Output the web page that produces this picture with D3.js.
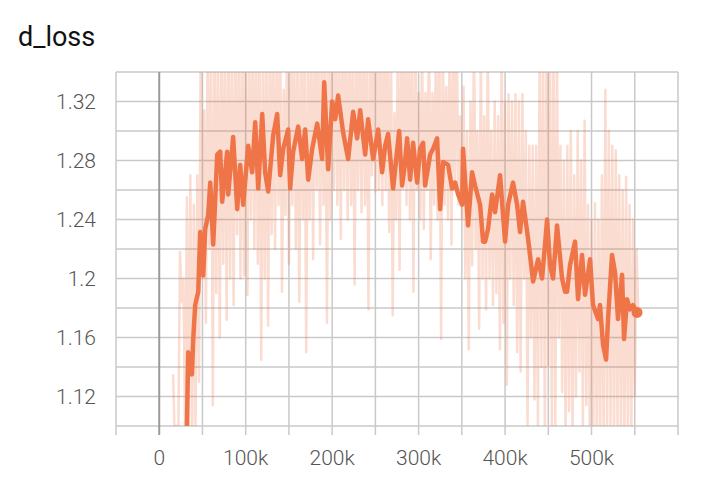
<!DOCTYPE html>
<html>
<head>
<meta charset="utf-8">
<script src="https://cdn.jsdelivr.net/npm/d3@7"></script>
<style>
  body { margin: 0; background: #fff; }
  svg text { font-family: Roboto, "Noto Sans", sans-serif; }
</style>
</head>
<body>
<div id="chart"></div>
<script>
// d_loss scalar, raw + smoothed

// x ticks / grid (steps)
var xGridSteps = [-50000, 0, 50000, 100000, 150000, 200000, 250000, 300000, 350000, 400000, 450000, 500000, 550000, 600000];
var xTickSteps = [0, 100000, 200000, 300000, 400000, 500000];
var xTickLabels = ["0", "100k", "200k", "300k", "400k", "500k"];
// y ticks / grid
var yGridValues = [1.10, 1.12, 1.14, 1.16, 1.18, 1.20, 1.22, 1.24, 1.26, 1.28, 1.30, 1.32, 1.34];
var yTickValues = [1.12, 1.16, 1.20, 1.24, 1.28, 1.32];
var yTickLabels = ["1.12", "1.16", "1.2", "1.24", "1.28", "1.32"];

// raw series: one point every 2k steps from 16k
var rawStart = 16000, rawEvery = 2000;
var rawValues = [
  1.135, 1.09, 1.10, 1.09, 1.218, 1.184, 1.20, 1.09, 1.255, 1.10,
  1.27, 1.08, 1.25, 1.10, 1.27, 1.13, 1.37, 1.20, 1.314, 1.17,
  1.37, 1.22, 1.36, 1.114, 1.38, 1.19, 1.36, 1.16, 1.37, 1.21,
  1.36, 1.172, 1.38, 1.20, 1.36, 1.182, 1.37, 1.23, 1.36, 1.20,
  1.38, 1.202, 1.36, 1.189, 1.37, 1.24, 1.36, 1.22, 1.38, 1.21,
  1.36, 1.145, 1.37, 1.20, 1.36, 1.168, 1.38, 1.23, 1.36, 1.22,
  1.37, 1.25, 1.36, 1.191, 1.328, 1.243, 1.38, 1.21, 1.36, 1.25,
  1.37, 1.22, 1.36, 1.184, 1.38, 1.24, 1.36, 1.150, 1.37, 1.24,
  1.36, 1.213, 1.38, 1.26, 1.36, 1.223, 1.37, 1.25, 1.36, 1.170,
  1.38, 1.24, 1.36, 1.26, 1.37, 1.25, 1.36, 1.227, 1.38, 1.26,
  1.36, 1.24, 1.37, 1.25, 1.36, 1.196, 1.38, 1.26, 1.36, 1.245,
  1.37, 1.25, 1.36, 1.179, 1.38, 1.27, 1.36, 1.259, 1.37, 1.26,
  1.36, 1.25, 1.38, 1.26, 1.36, 1.2315, 1.37, 1.175, 1.312, 1.24,
  1.36, 1.206, 1.38, 1.261, 1.36, 1.25, 1.37, 1.24, 1.36, 1.191,
  1.38, 1.26, 1.326, 1.24, 1.36, 1.2335, 1.326, 1.26, 1.37, 1.213,
  1.326, 1.25, 1.36, 1.24, 1.37, 1.159, 1.36, 1.25, 1.33, 1.24,
  1.37, 1.223, 1.36, 1.26, 1.38, 1.25, 1.31, 1.24, 1.33, 1.20,
  1.30, 1.152, 1.32, 1.209, 1.37, 1.22, 1.30, 1.166, 1.36, 1.20,
  1.31, 1.179, 1.36, 1.20, 1.30, 1.182, 1.32, 1.19, 1.31, 1.152,
  1.36, 1.17, 1.32, 1.128, 1.325, 1.20, 1.32, 1.182, 1.325, 1.15,
  1.32, 1.137, 1.325, 1.20, 1.30, 1.10, 1.29, 1.16, 1.29, 1.118,
  1.29, 1.10, 1.37, 1.14, 1.36, 1.09, 1.37, 1.141, 1.36, 1.10,
  1.37, 1.09, 1.36, 1.16, 1.29, 1.123, 1.28, 1.09, 1.29, 1.11,
  1.30, 1.09, 1.27, 1.12, 1.30, 1.137, 1.28, 1.10, 1.307, 1.114,
  1.25, 1.09, 1.24, 1.10, 1.251, 1.09, 1.24, 1.09, 1.27, 1.09,
  1.328, 1.09, 1.30, 1.10, 1.29, 1.09, 1.287, 1.10, 1.27, 1.09,
  1.26, 1.09, 1.269, 1.10, 1.25, 1.09, 1.24, 1.12, 1.22, 1.18
];

// smoothed series (steps in thousands)
var smoothSteps = [
  31, 32, 33.5, 37.8, 39.3, 41.6, 45.1, 47.4, 50.9, 53.2,
  56.6, 59.0, 62.4, 67.1, 70.5, 72.8, 78.6, 79.8, 85.5, 90.2,
  93.6, 97.1, 102.9, 107.5, 111.0, 114.5, 119.1, 122.5, 126.0, 131.8,
  136.4, 139.9, 143.4, 149.1, 151.4, 154.9, 160.7, 165.3, 168.8, 172.3,
  176.9, 182.7, 188.4, 190.8, 195.4, 200.0, 203.5, 206.9, 212.7, 218.5,
  224.3, 228.9, 232.4, 238.2, 241.6, 247.4, 253.2, 257.8, 261.3, 264.7,
  270.5, 277.5, 280.9, 284.0, 286.7, 290.2, 293.6, 298.3, 301.7, 305.2,
  307.5, 313.3, 316.8, 321.4, 324.9, 328.3, 334.1, 338.7, 342.2, 345.7,
  350.3, 351.4, 357.2, 361.8, 365.3, 371.1, 374.6, 376.9, 380.3, 385.0,
  388.4, 394.2, 400.0, 403.5, 409.2, 413.9, 417.3, 420.8, 426.6, 432.4,
  438.2, 442.8, 446.2, 448.6, 452.0, 455.5, 460.1, 465.9, 469.4, 471.7,
  475.1, 480.9, 484.4, 489.0, 492.5, 498.3, 501.7, 507.5, 509.8, 513.3,
  516.8, 519.1, 523.7, 527.2, 530.6, 535.3, 537.6, 541.0, 544.5, 548.0,
  552.6
];
var smoothValues = [
  1.09, 1.10, 1.150, 1.135, 1.159, 1.182, 1.191, 1.2315, 1.202, 1.2335,
  1.243, 1.265, 1.223, 1.284, 1.286, 1.252, 1.286, 1.257, 1.296, 1.247,
  1.277, 1.250, 1.290, 1.272, 1.306, 1.261, 1.3115, 1.272, 1.259, 1.297,
  1.3115, 1.270, 1.288, 1.301, 1.261, 1.286, 1.303, 1.281, 1.301, 1.267,
  1.288, 1.305, 1.281, 1.333, 1.274, 1.320, 1.308, 1.324, 1.299, 1.281,
  1.313, 1.295, 1.314, 1.284, 1.308, 1.281, 1.301, 1.272, 1.290, 1.298,
  1.261, 1.300, 1.263, 1.277, 1.295, 1.267, 1.292, 1.265, 1.288, 1.292,
  1.263, 1.284, 1.288, 1.295, 1.247, 1.279, 1.277, 1.261, 1.265, 1.257,
  1.250, 1.288, 1.236, 1.272, 1.263, 1.250, 1.225, 1.225, 1.2335, 1.257,
  1.245, 1.270, 1.225, 1.250, 1.265, 1.250, 1.2315, 1.252, 1.227, 1.198,
  1.213, 1.200, 1.223, 1.240, 1.209, 1.200, 1.236, 1.200, 1.191, 1.191,
  1.209, 1.225, 1.186, 1.216, 1.189, 1.213, 1.182, 1.1725, 1.182, 1.155,
  1.145, 1.1725, 1.216, 1.204, 1.1725, 1.2025, 1.159, 1.186, 1.179, 1.182,
  1.177
];

var W = 720, H = 478;
var margin = {top: 72, left: 116, right: 42, bottom: 52};
var w = W - margin.left - margin.right;
var h = H - margin.top - margin.bottom;

var svg = d3.select('#chart').append('svg')
  .attr('width', W)
  .attr('height', H);

var x = d3.scaleLinear().domain([-50000, 600000]).range([0, w]);
var y = d3.scaleLinear().domain([1.10, 1.34]).range([h, 0]);

// title
svg.append('text')
  .attr('x', 18)
  .attr('y', 46)
  .attr('font-size', 27)
  .attr('fill', '#111')
  .text('d_loss');

var g = svg.append('g')
  .attr('transform', 'translate(' + margin.left + ',' + margin.top + ')');

g.append('clipPath').attr('id', 'clip')
  .append('rect').attr('width', w).attr('height', h);

// grid
g.selectAll('.hgrid')
  .data(yGridValues)
  .enter().append('line')
  .attr('x1', 0).attr('x2', w)
  .attr('y1', function(d) { return y(d); })
  .attr('y2', function(d) { return y(d); })
  .attr('stroke', '#c9c9c9')
  .attr('stroke-width', 1.5);

g.selectAll('.vgrid')
  .data(xGridSteps)
  .enter().append('line')
  .attr('x1', function(d) { return x(d); })
  .attr('x2', function(d) { return x(d); })
  .attr('y1', 0).attr('y2', h + 9)
  .attr('stroke', function(d) { return d === 0 ? '#9a9a9a' : '#c9c9c9'; })
  .attr('stroke-width', function(d) { return d === 0 ? 2 : 1.5; });

// y labels
svg.selectAll('.ylab')
  .data(yTickValues)
  .enter().append('text')
  .attr('x', 96)
  .attr('y', function(d) { return margin.top + y(d); })
  .attr('dy', '0.35em')
  .attr('text-anchor', 'end')
  .attr('font-size', 21)
  .attr('font-weight', 300)
  .attr('fill', '#555')
  .text(function(d, i) { return yTickLabels[i]; });

// x labels
svg.selectAll('.xlab')
  .data(xTickSteps)
  .enter().append('text')
  .attr('x', function(d) { return margin.left + x(d); })
  .attr('y', 465)
  .attr('text-anchor', 'middle')
  .attr('font-size', 21)
  .attr('font-weight', 300)
  .attr('fill', '#555')
  .text(function(d, i) { return xTickLabels[i]; });

var plot = g.append('g').attr('clip-path', 'url(#clip)');

var rawData = rawValues.map(function(v, i) { return [rawStart + i * rawEvery, v]; });
var smoothData = smoothValues.map(function(v, i) { return [smoothSteps[i] * 1000, v]; });

var line = d3.line()
  .x(function(d) { return x(d[0]); })
  .y(function(d) { return y(d[1]); });

// raw line drawn faded as a whole group so the grid shows through
plot.append('g')
  .attr('opacity', 0.24)
  .append('path')
  .datum(rawData)
  .attr('d', line)
  .attr('fill', 'none')
  .attr('stroke', '#f06e40')
  .attr('stroke-width', 2.5)
  .attr('stroke-linejoin', 'round');

plot.append('path')
  .datum(smoothData)
  .attr('d', line)
  .attr('fill', 'none')
  .attr('stroke', '#ef7549')
  .attr('stroke-width', 4.5)
  .attr('stroke-linejoin', 'round');

// end marker
var last = smoothData[smoothData.length - 1];
g.append('circle')
  .attr('cx', x(last[0]))
  .attr('cy', y(last[1]))
  .attr('r', 5.5)
  .attr('fill', '#ef7549');
</script>
</body>
</html>
